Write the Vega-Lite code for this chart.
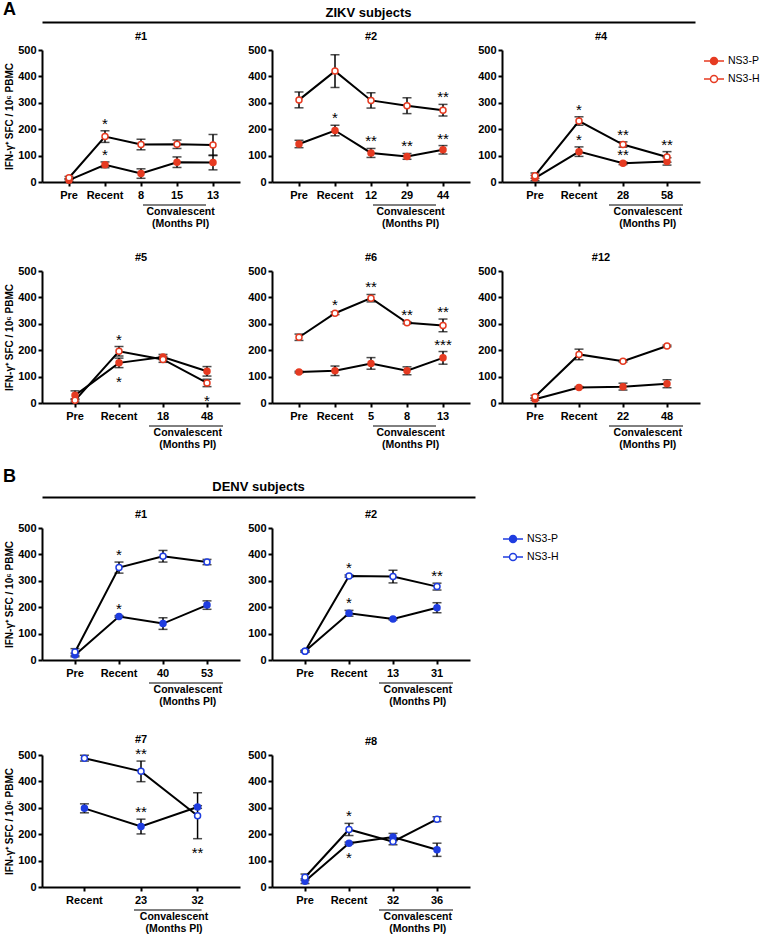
{
"$schema": "https://vega.github.io/schema/vega-lite/v6.json",
"padding": {"left": 3, "top": 1, "right": 0, "bottom": 0},
"background": "white",
"datasets": {
"hdr": [{"letter": "A", "block": "ZIKV subjects"}, {"letter": "B", "block": "DENV subjects"}],
"conv": [
{"p": "Z1", "first": "8", "last": "13", "lab": "Convalescent\n(Months PI)"},
{"p": "Z2", "first": "12", "last": "44", "lab": "Convalescent\n(Months PI)"},
{"p": "Z4", "first": "28", "last": "58", "lab": "Convalescent\n(Months PI)"},
{"p": "Z5", "first": "18", "last": "48", "lab": "Convalescent\n(Months PI)"},
{"p": "Z6", "first": "5", "last": "13", "lab": "Convalescent\n(Months PI)"},
{"p": "Z12", "first": "22", "last": "48", "lab": "Convalescent\n(Months PI)"},
{"p": "D1", "first": "40", "last": "53", "lab": "Convalescent\n(Months PI)"},
{"p": "D2", "first": "13", "last": "31", "lab": "Convalescent\n(Months PI)"},
{"p": "D7", "first": "23", "last": "32", "lab": "Convalescent\n(Months PI)"},
{"p": "D8", "first": "32", "last": "36", "lab": "Convalescent\n(Months PI)"}
],
"pts": [
{"p":"Z1","t":"Pre","s":"NS3-P","m":7,"lo":3,"hi":12},
{"p":"Z1","t":"Recent","s":"NS3-P","m":65,"lo":54,"hi":76,"up":"*"},
{"p":"Z1","t":"8","s":"NS3-P","m":32,"lo":14,"hi":50},
{"p":"Z1","t":"15","s":"NS3-P","m":75,"lo":55,"hi":95},
{"p":"Z1","t":"13","s":"NS3-P","m":74,"lo":46,"hi":102},
{"p":"Z1","t":"Pre","s":"NS3-H","m":16,"lo":11,"hi":21},
{"p":"Z1","t":"Recent","s":"NS3-H","m":172,"lo":150,"hi":194,"up":"*"},
{"p":"Z1","t":"8","s":"NS3-H","m":142,"lo":122,"hi":162},
{"p":"Z1","t":"15","s":"NS3-H","m":143,"lo":127,"hi":159},
{"p":"Z1","t":"13","s":"NS3-H","m":140,"lo":100,"hi":180},
{"p":"Z2","t":"Pre","s":"NS3-P","m":144,"lo":130,"hi":158},
{"p":"Z2","t":"Recent","s":"NS3-P","m":195,"lo":175,"hi":215,"up":"*"},
{"p":"Z2","t":"12","s":"NS3-P","m":110,"lo":93,"hi":127,"up":"**"},
{"p":"Z2","t":"29","s":"NS3-P","m":97,"lo":86,"hi":108,"up":"**"},
{"p":"Z2","t":"44","s":"NS3-P","m":122,"lo":106,"hi":138,"up":"**"},
{"p":"Z2","t":"Pre","s":"NS3-H","m":311,"lo":281,"hi":341},
{"p":"Z2","t":"Recent","s":"NS3-H","m":420,"lo":358,"hi":482},
{"p":"Z2","t":"12","s":"NS3-H","m":309,"lo":280,"hi":338},
{"p":"Z2","t":"29","s":"NS3-H","m":289,"lo":259,"hi":319},
{"p":"Z2","t":"44","s":"NS3-H","m":272,"lo":250,"hi":294,"up":"**"},
{"p":"Z4","t":"Pre","s":"NS3-P","m":15,"lo":5,"hi":25},
{"p":"Z4","t":"Recent","s":"NS3-P","m":115,"lo":97,"hi":133,"up":"*"},
{"p":"Z4","t":"28","s":"NS3-P","m":71,"lo":66,"hi":76,"up":"**"},
{"p":"Z4","t":"58","s":"NS3-P","m":78,"lo":64,"hi":92},
{"p":"Z4","t":"Pre","s":"NS3-H","m":24,"lo":14,"hi":34},
{"p":"Z4","t":"Recent","s":"NS3-H","m":231,"lo":215,"hi":247,"up":"*"},
{"p":"Z4","t":"28","s":"NS3-H","m":142,"lo":132,"hi":152,"up":"**"},
{"p":"Z4","t":"58","s":"NS3-H","m":95,"lo":75,"hi":115,"up":"**"},
{"p":"Z5","t":"Pre","s":"NS3-P","m":29,"lo":12,"hi":46},
{"p":"Z5","t":"Recent","s":"NS3-P","m":152,"lo":134,"hi":170,"dn":"*"},
{"p":"Z5","t":"18","s":"NS3-P","m":174,"lo":164,"hi":184},
{"p":"Z5","t":"48","s":"NS3-P","m":120,"lo":102,"hi":138},
{"p":"Z5","t":"Pre","s":"NS3-H","m":10,"lo":4,"hi":16},
{"p":"Z5","t":"Recent","s":"NS3-H","m":196,"lo":178,"hi":214,"up":"*"},
{"p":"Z5","t":"18","s":"NS3-H","m":165,"lo":154,"hi":176},
{"p":"Z5","t":"48","s":"NS3-H","m":76,"lo":62,"hi":90,"dn":"*"},
{"p":"Z6","t":"Pre","s":"NS3-P","m":117,"lo":114,"hi":120},
{"p":"Z6","t":"Recent","s":"NS3-P","m":122,"lo":104,"hi":140},
{"p":"Z6","t":"5","s":"NS3-P","m":150,"lo":128,"hi":172},
{"p":"Z6","t":"8","s":"NS3-P","m":122,"lo":107,"hi":137},
{"p":"Z6","t":"13","s":"NS3-P","m":171,"lo":147,"hi":195,"up":"***"},
{"p":"Z6","t":"Pre","s":"NS3-H","m":249,"lo":237,"hi":261},
{"p":"Z6","t":"Recent","s":"NS3-H","m":340,"lo":335,"hi":345,"up":"*"},
{"p":"Z6","t":"5","s":"NS3-H","m":397,"lo":383,"hi":411,"up":"**"},
{"p":"Z6","t":"8","s":"NS3-H","m":304,"lo":300,"hi":308,"up":"**"},
{"p":"Z6","t":"13","s":"NS3-H","m":294,"lo":270,"hi":318,"up":"**"},
{"p":"Z12","t":"Pre","s":"NS3-P","m":14,"lo":10,"hi":18},
{"p":"Z12","t":"Recent","s":"NS3-P","m":59,"lo":56,"hi":62},
{"p":"Z12","t":"22","s":"NS3-P","m":62,"lo":49,"hi":75},
{"p":"Z12","t":"48","s":"NS3-P","m":73,"lo":58,"hi":88},
{"p":"Z12","t":"Pre","s":"NS3-H","m":24,"lo":19,"hi":29},
{"p":"Z12","t":"Recent","s":"NS3-H","m":184,"lo":164,"hi":204},
{"p":"Z12","t":"22","s":"NS3-H","m":158,"lo":155,"hi":161},
{"p":"Z12","t":"48","s":"NS3-H","m":216,"lo":213,"hi":219},
{"p":"D1","t":"Pre","s":"NS3-P","m":19,"lo":12,"hi":26},
{"p":"D1","t":"Recent","s":"NS3-P","m":165,"lo":162,"hi":168,"up":"*"},
{"p":"D1","t":"40","s":"NS3-P","m":138,"lo":116,"hi":160},
{"p":"D1","t":"53","s":"NS3-P","m":208,"lo":192,"hi":224},
{"p":"D1","t":"Pre","s":"NS3-H","m":30,"lo":17,"hi":43},
{"p":"D1","t":"Recent","s":"NS3-H","m":350,"lo":329,"hi":371,"up":"*"},
{"p":"D1","t":"40","s":"NS3-H","m":393,"lo":371,"hi":415},
{"p":"D1","t":"53","s":"NS3-H","m":371,"lo":361,"hi":381},
{"p":"D2","t":"Pre","s":"NS3-P","m":33,"lo":30,"hi":36},
{"p":"D2","t":"Recent","s":"NS3-P","m":177,"lo":166,"hi":188,"up":"*"},
{"p":"D2","t":"13","s":"NS3-P","m":155,"lo":152,"hi":158},
{"p":"D2","t":"31","s":"NS3-P","m":198,"lo":179,"hi":217},
{"p":"D2","t":"Pre","s":"NS3-H","m":33,"lo":30,"hi":36},
{"p":"D2","t":"Recent","s":"NS3-H","m":318,"lo":314,"hi":322,"up":"*"},
{"p":"D2","t":"13","s":"NS3-H","m":316,"lo":292,"hi":340},
{"p":"D2","t":"31","s":"NS3-H","m":278,"lo":265,"hi":291,"up":"**"},
{"p":"D7","t":"Recent","s":"NS3-P","m":298,"lo":281,"hi":315},
{"p":"D7","t":"23","s":"NS3-P","m":229,"lo":201,"hi":257,"up":"**"},
{"p":"D7","t":"32","s":"NS3-P","m":303,"lo":298,"hi":308},
{"p":"D7","t":"Recent","s":"NS3-H","m":488,"lo":477,"hi":499},
{"p":"D7","t":"23","s":"NS3-H","m":438,"lo":399,"hi":477,"up":"**"},
{"p":"D7","t":"32","s":"NS3-H","m":270,"lo":183,"hi":357,"dn":"**"},
{"p":"D8","t":"Pre","s":"NS3-P","m":22,"lo":13,"hi":31},
{"p":"D8","t":"Recent","s":"NS3-P","m":166,"lo":162,"hi":170,"dn":"*"},
{"p":"D8","t":"32","s":"NS3-P","m":189,"lo":175,"hi":203},
{"p":"D8","t":"36","s":"NS3-P","m":141,"lo":116,"hi":166},
{"p":"D8","t":"Pre","s":"NS3-H","m":37,"lo":25,"hi":49},
{"p":"D8","t":"Recent","s":"NS3-H","m":218,"lo":195,"hi":241,"up":"*"},
{"p":"D8","t":"32","s":"NS3-H","m":172,"lo":160,"hi":184},
{"p":"D8","t":"36","s":"NS3-H","m":257,"lo":248,"hi":266}
]
},
"config": {
"font": "Liberation Sans",
"view": {"stroke": null},
"axis": {"domainColor": "black", "domainWidth": 2, "tickColor": "black", "tickWidth": 2, "tickSize": 4, "labelFont": "Liberation Sans", "labelFontWeight": "bold", "labelFontSize": 11, "labelColor": "black", "grid": false, "titleFont": "Liberation Sans", "titleFontWeight": "bold", "titleFontSize": 10, "titleColor": "black", "labelPadding": 2},
"axisX": {"labelAngle": 0, "labelPadding": 3},
"axisY": {"tickCount": 5, "titlePadding": 3},
"title": {"font": "Liberation Sans", "fontSize": 11, "fontWeight": "bold", "color": "black", "offset": 2, "baseline": "alphabetic"},
"text": {"font": "Liberation Sans", "color": "black"}
},
"spacing": 17,
"resolve": {"scale": {"fill": "independent"}, "legend": {"fill": "independent"}},
"vconcat": [
{"spacing": 9,
"resolve": {"scale": {"fill": "independent"}, "legend": {"fill": "independent"}},
"vconcat": [
{"width": 653, "height": 6,
"data": {"name": "hdr"}, "transform": [{"filter": "datum.letter == 'A'"}],
"encoding": {"x": {"datum": 0, "type": "quantitative", "scale": {"domain": [0, 1]}, "axis": {"domain": true, "ticks": false, "labels": false, "title": null, "grid": false}}},
"layer": [
{"mark": {"type": "text", "align": "left", "baseline": "middle", "fontSize": 18, "fontWeight": "bold", "dx": -39, "dy": -9}, "encoding": {"text": {"field": "letter"}}},
{"mark": {"type": "text", "align": "center", "baseline": "alphabetic", "fontSize": 13, "fontWeight": "bold", "dy": -2}, "encoding": {"x": {"datum": 0.5, "type": "quantitative"}, "text": {"field": "block"}}}
]},
{"spacing": 22,
"resolve": {"scale": {"fill": "independent"}, "legend": {"fill": "independent"}},
"vconcat": [
{"spacing": 7,
"resolve": {"scale": {"fill": "independent"}, "legend": {"fill": "independent"}},
"hconcat": [
{"width": 198, "height": 132, "title": "#1", "data": {"name": "pts"}, "transform": [{"filter": "datum.p == 'Z1'"}],
"encoding": {"x": {"field": "t", "type": "nominal", "scale": {"domain": ["Pre", "Recent", "8", "15", "13"], "padding": 0.5}, "axis": {"title": null}}},
"layer": [
{"mark": {"type": "line", "color": "black", "strokeWidth": 2}, "encoding": {"y": {"field": "m", "type": "quantitative", "title": "IFN-γ⁺ SFC / 10⁶ PBMC", "scale": {"domain": [0, 500], "nice": false}}, "detail": {"field": "s"}, "order": {"value": null}}},
{"mark": {"type": "errorbar", "color": "black", "thickness": 1.5, "ticks": {"size": 9}}, "encoding": {"y": {"field": "lo", "type": "quantitative", "title": "IFN-γ⁺ SFC / 10⁶ PBMC"}, "y2": {"field": "hi"}}},
{"mark": {"type": "circle", "size": 36, "stroke": "#e63b22", "strokeWidth": 1.5, "opacity": 1}, "encoding": {"y": {"field": "m", "type": "quantitative", "title": "IFN-γ⁺ SFC / 10⁶ PBMC"}, "fill": {"field": "s", "type": "nominal", "scale": {"domain": ["NS3-P", "NS3-H"], "range": ["#e63b22", "white"]}, "legend": null}}},
{"transform": [{"filter": "datum.up"}], "mark": {"type": "text", "fontSize": 15, "baseline": "alphabetic", "dy": -2}, "encoding": {"y": {"field": "hi", "type": "quantitative", "title": "IFN-γ⁺ SFC / 10⁶ PBMC"}, "text": {"field": "up"}}},
{"transform": [{"filter": "datum.dn"}], "mark": {"type": "text", "fontSize": 15, "baseline": "alphabetic", "dy": 19}, "encoding": {"y": {"field": "lo", "type": "quantitative", "title": "IFN-γ⁺ SFC / 10⁶ PBMC"}, "text": {"field": "dn"}}},
{"data": {"name": "conv"}, "transform": [{"filter": "datum.p == 'Z1'"}], "layer": [
{"mark": {"type": "rule", "color": "black", "strokeWidth": 1, "xOffset": 2, "x2Offset": -7, "yOffset": 23, "y2Offset": 23}, "encoding": {"x": {"field": "first", "type": "nominal"}, "x2": {"field": "last"}, "y": {"datum": 0, "type": "quantitative", "title": "IFN-γ⁺ SFC / 10⁶ PBMC"}, "y2": {"datum": 0}}},
{"mark": {"type": "text", "fontSize": 10.5, "fontWeight": "bold", "baseline": "top", "lineBreak": "\n", "lineHeight": 12, "dx": 39.6, "dy": 25}, "encoding": {"x": {"field": "first", "type": "nominal"}, "y": {"datum": 0, "type": "quantitative", "title": "IFN-γ⁺ SFC / 10⁶ PBMC"}, "text": {"field": "lab"}}}
]}
]},
{"width": 198, "height": 132, "title": "#2", "data": {"name": "pts"}, "transform": [{"filter": "datum.p == 'Z2'"}],
"encoding": {"x": {"field": "t", "type": "nominal", "scale": {"domain": ["Pre", "Recent", "12", "29", "44"], "padding": 0.5}, "axis": {"title": null}}},
"layer": [
{"mark": {"type": "line", "color": "black", "strokeWidth": 2}, "encoding": {"y": {"field": "m", "type": "quantitative", "scale": {"domain": [0, 500], "nice": false}, "axis": {"title": null}}, "detail": {"field": "s"}, "order": {"value": null}}},
{"mark": {"type": "errorbar", "color": "black", "thickness": 1.5, "ticks": {"size": 9}}, "encoding": {"y": {"field": "lo", "type": "quantitative"}, "y2": {"field": "hi"}}},
{"mark": {"type": "circle", "size": 36, "stroke": "#e63b22", "strokeWidth": 1.5, "opacity": 1}, "encoding": {"y": {"field": "m", "type": "quantitative"}, "fill": {"field": "s", "type": "nominal", "scale": {"domain": ["NS3-P", "NS3-H"], "range": ["#e63b22", "white"]}, "legend": null}}},
{"transform": [{"filter": "datum.up"}], "mark": {"type": "text", "fontSize": 15, "baseline": "alphabetic", "dy": -2}, "encoding": {"y": {"field": "hi", "type": "quantitative"}, "text": {"field": "up"}}},
{"transform": [{"filter": "datum.dn"}], "mark": {"type": "text", "fontSize": 15, "baseline": "alphabetic", "dy": 19}, "encoding": {"y": {"field": "lo", "type": "quantitative"}, "text": {"field": "dn"}}},
{"data": {"name": "conv"}, "transform": [{"filter": "datum.p == 'Z2'"}], "layer": [
{"mark": {"type": "rule", "color": "black", "strokeWidth": 1, "xOffset": 2, "x2Offset": -7, "yOffset": 23, "y2Offset": 23}, "encoding": {"x": {"field": "first", "type": "nominal"}, "x2": {"field": "last"}, "y": {"datum": 0, "type": "quantitative"}, "y2": {"datum": 0}}},
{"mark": {"type": "text", "fontSize": 10.5, "fontWeight": "bold", "baseline": "top", "lineBreak": "\n", "lineHeight": 12, "dx": 39.6, "dy": 25}, "encoding": {"x": {"field": "first", "type": "nominal"}, "y": {"datum": 0, "type": "quantitative"}, "text": {"field": "lab"}}}
]}
]},
{"width": 198, "height": 132, "title": "#4", "data": {"name": "pts"}, "transform": [{"filter": "datum.p == 'Z4'"}],
"encoding": {"x": {"field": "t", "type": "nominal", "scale": {"domain": ["Pre", "Recent", "28", "58"], "padding": 0.5}, "axis": {"title": null}}},
"layer": [
{"mark": {"type": "line", "color": "black", "strokeWidth": 2}, "encoding": {"y": {"field": "m", "type": "quantitative", "scale": {"domain": [0, 500], "nice": false}, "axis": {"title": null}}, "detail": {"field": "s"}, "order": {"value": null}}},
{"mark": {"type": "errorbar", "color": "black", "thickness": 1.5, "ticks": {"size": 9}}, "encoding": {"y": {"field": "lo", "type": "quantitative"}, "y2": {"field": "hi"}}},
{"mark": {"type": "circle", "size": 36, "stroke": "#e63b22", "strokeWidth": 1.5, "opacity": 1}, "encoding": {"y": {"field": "m", "type": "quantitative"}, "fill": {"field": "s", "type": "nominal", "scale": {"domain": ["NS3-P", "NS3-H"], "range": ["#e63b22", "white"]}, "legend": {"title": null, "orient": "right", "offset": 3, "padding": 0, "rowPadding": 0, "symbolType": "M -1 0 L -0.4 0 M 0.4 0 L 1 0 M 0.35 0 A 0.35 0.35 0 1 1 -0.35 0 A 0.35 0.35 0 1 1 0.35 0", "symbolSize": 400, "symbolStrokeColor": "#e63b22", "symbolStrokeWidth": 1.5, "labelFont": "Liberation Sans", "labelFontSize": 10.5, "labelColor": "black", "labelOffset": 3}}}},
{"transform": [{"filter": "datum.up"}], "mark": {"type": "text", "fontSize": 15, "baseline": "alphabetic", "dy": -2}, "encoding": {"y": {"field": "hi", "type": "quantitative"}, "text": {"field": "up"}}},
{"transform": [{"filter": "datum.dn"}], "mark": {"type": "text", "fontSize": 15, "baseline": "alphabetic", "dy": 19}, "encoding": {"y": {"field": "lo", "type": "quantitative"}, "text": {"field": "dn"}}},
{"data": {"name": "conv"}, "transform": [{"filter": "datum.p == 'Z4'"}], "layer": [
{"mark": {"type": "rule", "color": "black", "strokeWidth": 1, "xOffset": -14, "x2Offset": 16, "yOffset": 23, "y2Offset": 23}, "encoding": {"x": {"field": "first", "type": "nominal"}, "x2": {"field": "last"}, "y": {"datum": 0, "type": "quantitative"}, "y2": {"datum": 0}}},
{"mark": {"type": "text", "fontSize": 10.5, "fontWeight": "bold", "baseline": "top", "lineBreak": "\n", "lineHeight": 12, "dx": 24.75, "dy": 25}, "encoding": {"x": {"field": "first", "type": "nominal"}, "y": {"datum": 0, "type": "quantitative"}, "text": {"field": "lab"}}}
]}
]}
]},
{"spacing": 7,
"resolve": {"scale": {"fill": "independent"}, "legend": {"fill": "independent"}},
"hconcat": [
{"width": 198, "height": 132, "title": "#5", "data": {"name": "pts"}, "transform": [{"filter": "datum.p == 'Z5'"}],
"encoding": {"x": {"field": "t", "type": "nominal", "scale": {"domain": ["Pre", "Recent", "18", "48"], "padding": 0.5}, "axis": {"title": null}}},
"layer": [
{"mark": {"type": "line", "color": "black", "strokeWidth": 2}, "encoding": {"y": {"field": "m", "type": "quantitative", "title": "IFN-γ⁺ SFC / 10⁶ PBMC", "scale": {"domain": [0, 500], "nice": false}}, "detail": {"field": "s"}, "order": {"value": null}}},
{"mark": {"type": "errorbar", "color": "black", "thickness": 1.5, "ticks": {"size": 9}}, "encoding": {"y": {"field": "lo", "type": "quantitative", "title": "IFN-γ⁺ SFC / 10⁶ PBMC"}, "y2": {"field": "hi"}}},
{"mark": {"type": "circle", "size": 36, "stroke": "#e63b22", "strokeWidth": 1.5, "opacity": 1}, "encoding": {"y": {"field": "m", "type": "quantitative", "title": "IFN-γ⁺ SFC / 10⁶ PBMC"}, "fill": {"field": "s", "type": "nominal", "scale": {"domain": ["NS3-P", "NS3-H"], "range": ["#e63b22", "white"]}, "legend": null}}},
{"transform": [{"filter": "datum.up"}], "mark": {"type": "text", "fontSize": 15, "baseline": "alphabetic", "dy": -2}, "encoding": {"y": {"field": "hi", "type": "quantitative", "title": "IFN-γ⁺ SFC / 10⁶ PBMC"}, "text": {"field": "up"}}},
{"transform": [{"filter": "datum.dn"}], "mark": {"type": "text", "fontSize": 15, "baseline": "alphabetic", "dy": 19}, "encoding": {"y": {"field": "lo", "type": "quantitative", "title": "IFN-γ⁺ SFC / 10⁶ PBMC"}, "text": {"field": "dn"}}},
{"data": {"name": "conv"}, "transform": [{"filter": "datum.p == 'Z5'"}], "layer": [
{"mark": {"type": "rule", "color": "black", "strokeWidth": 1, "xOffset": -14, "x2Offset": 16, "yOffset": 23, "y2Offset": 23}, "encoding": {"x": {"field": "first", "type": "nominal"}, "x2": {"field": "last"}, "y": {"datum": 0, "type": "quantitative", "title": "IFN-γ⁺ SFC / 10⁶ PBMC"}, "y2": {"datum": 0}}},
{"mark": {"type": "text", "fontSize": 10.5, "fontWeight": "bold", "baseline": "top", "lineBreak": "\n", "lineHeight": 12, "dx": 24.75, "dy": 25}, "encoding": {"x": {"field": "first", "type": "nominal"}, "y": {"datum": 0, "type": "quantitative", "title": "IFN-γ⁺ SFC / 10⁶ PBMC"}, "text": {"field": "lab"}}}
]}
]},
{"width": 198, "height": 132, "title": "#6", "data": {"name": "pts"}, "transform": [{"filter": "datum.p == 'Z6'"}],
"encoding": {"x": {"field": "t", "type": "nominal", "scale": {"domain": ["Pre", "Recent", "5", "8", "13"], "padding": 0.5}, "axis": {"title": null}}},
"layer": [
{"mark": {"type": "line", "color": "black", "strokeWidth": 2}, "encoding": {"y": {"field": "m", "type": "quantitative", "scale": {"domain": [0, 500], "nice": false}, "axis": {"title": null}}, "detail": {"field": "s"}, "order": {"value": null}}},
{"mark": {"type": "errorbar", "color": "black", "thickness": 1.5, "ticks": {"size": 9}}, "encoding": {"y": {"field": "lo", "type": "quantitative"}, "y2": {"field": "hi"}}},
{"mark": {"type": "circle", "size": 36, "stroke": "#e63b22", "strokeWidth": 1.5, "opacity": 1}, "encoding": {"y": {"field": "m", "type": "quantitative"}, "fill": {"field": "s", "type": "nominal", "scale": {"domain": ["NS3-P", "NS3-H"], "range": ["#e63b22", "white"]}, "legend": null}}},
{"transform": [{"filter": "datum.up"}], "mark": {"type": "text", "fontSize": 15, "baseline": "alphabetic", "dy": -2}, "encoding": {"y": {"field": "hi", "type": "quantitative"}, "text": {"field": "up"}}},
{"transform": [{"filter": "datum.dn"}], "mark": {"type": "text", "fontSize": 15, "baseline": "alphabetic", "dy": 19}, "encoding": {"y": {"field": "lo", "type": "quantitative"}, "text": {"field": "dn"}}},
{"data": {"name": "conv"}, "transform": [{"filter": "datum.p == 'Z6'"}], "layer": [
{"mark": {"type": "rule", "color": "black", "strokeWidth": 1, "xOffset": 2, "x2Offset": -7, "yOffset": 23, "y2Offset": 23}, "encoding": {"x": {"field": "first", "type": "nominal"}, "x2": {"field": "last"}, "y": {"datum": 0, "type": "quantitative"}, "y2": {"datum": 0}}},
{"mark": {"type": "text", "fontSize": 10.5, "fontWeight": "bold", "baseline": "top", "lineBreak": "\n", "lineHeight": 12, "dx": 39.6, "dy": 25}, "encoding": {"x": {"field": "first", "type": "nominal"}, "y": {"datum": 0, "type": "quantitative"}, "text": {"field": "lab"}}}
]}
]},
{"width": 198, "height": 132, "title": "#12", "data": {"name": "pts"}, "transform": [{"filter": "datum.p == 'Z12'"}],
"encoding": {"x": {"field": "t", "type": "nominal", "scale": {"domain": ["Pre", "Recent", "22", "48"], "padding": 0.5}, "axis": {"title": null}}},
"layer": [
{"mark": {"type": "line", "color": "black", "strokeWidth": 2}, "encoding": {"y": {"field": "m", "type": "quantitative", "scale": {"domain": [0, 500], "nice": false}, "axis": {"title": null}}, "detail": {"field": "s"}, "order": {"value": null}}},
{"mark": {"type": "errorbar", "color": "black", "thickness": 1.5, "ticks": {"size": 9}}, "encoding": {"y": {"field": "lo", "type": "quantitative"}, "y2": {"field": "hi"}}},
{"mark": {"type": "circle", "size": 36, "stroke": "#e63b22", "strokeWidth": 1.5, "opacity": 1}, "encoding": {"y": {"field": "m", "type": "quantitative"}, "fill": {"field": "s", "type": "nominal", "scale": {"domain": ["NS3-P", "NS3-H"], "range": ["#e63b22", "white"]}, "legend": null}}},
{"transform": [{"filter": "datum.up"}], "mark": {"type": "text", "fontSize": 15, "baseline": "alphabetic", "dy": -2}, "encoding": {"y": {"field": "hi", "type": "quantitative"}, "text": {"field": "up"}}},
{"transform": [{"filter": "datum.dn"}], "mark": {"type": "text", "fontSize": 15, "baseline": "alphabetic", "dy": 19}, "encoding": {"y": {"field": "lo", "type": "quantitative"}, "text": {"field": "dn"}}},
{"data": {"name": "conv"}, "transform": [{"filter": "datum.p == 'Z12'"}], "layer": [
{"mark": {"type": "rule", "color": "black", "strokeWidth": 1, "xOffset": -14, "x2Offset": 16, "yOffset": 23, "y2Offset": 23}, "encoding": {"x": {"field": "first", "type": "nominal"}, "x2": {"field": "last"}, "y": {"datum": 0, "type": "quantitative"}, "y2": {"datum": 0}}},
{"mark": {"type": "text", "fontSize": 10.5, "fontWeight": "bold", "baseline": "top", "lineBreak": "\n", "lineHeight": 12, "dx": 24.75, "dy": 25}, "encoding": {"x": {"field": "first", "type": "nominal"}, "y": {"datum": 0, "type": "quantitative"}, "text": {"field": "lab"}}}
]}
]}
]}
]}
]},
{"spacing": 12,
"resolve": {"scale": {"fill": "independent"}, "legend": {"fill": "independent"}},
"vconcat": [
{"width": 433, "height": 6,
"data": {"name": "hdr"}, "transform": [{"filter": "datum.letter == 'B'"}],
"encoding": {"x": {"datum": 0, "type": "quantitative", "scale": {"domain": [0, 1]}, "axis": {"domain": true, "ticks": false, "labels": false, "title": null, "grid": false}}},
"layer": [
{"mark": {"type": "text", "align": "left", "baseline": "middle", "fontSize": 18, "fontWeight": "bold", "dx": -39, "dy": -17}, "encoding": {"text": {"field": "letter"}}},
{"mark": {"type": "text", "align": "center", "baseline": "alphabetic", "fontSize": 13, "fontWeight": "bold", "dy": -3}, "encoding": {"x": {"datum": 0.5, "type": "quantitative"}, "text": {"field": "block"}}}
]},
{"spacing": 26,
"resolve": {"scale": {"fill": "independent"}, "legend": {"fill": "independent"}},
"vconcat": [
{"spacing": 7,
"resolve": {"scale": {"fill": "independent"}, "legend": {"fill": "independent"}},
"hconcat": [
{"width": 198, "height": 132, "title": "#1", "data": {"name": "pts"}, "transform": [{"filter": "datum.p == 'D1'"}],
"encoding": {"x": {"field": "t", "type": "nominal", "scale": {"domain": ["Pre", "Recent", "40", "53"], "padding": 0.5}, "axis": {"title": null}}},
"layer": [
{"mark": {"type": "line", "color": "black", "strokeWidth": 2}, "encoding": {"y": {"field": "m", "type": "quantitative", "title": "IFN-γ⁺ SFC / 10⁶ PBMC", "scale": {"domain": [0, 500], "nice": false}}, "detail": {"field": "s"}, "order": {"value": null}}},
{"mark": {"type": "errorbar", "color": "black", "thickness": 1.5, "ticks": {"size": 9}}, "encoding": {"y": {"field": "lo", "type": "quantitative", "title": "IFN-γ⁺ SFC / 10⁶ PBMC"}, "y2": {"field": "hi"}}},
{"mark": {"type": "circle", "size": 36, "stroke": "#1f3de0", "strokeWidth": 1.5, "opacity": 1}, "encoding": {"y": {"field": "m", "type": "quantitative", "title": "IFN-γ⁺ SFC / 10⁶ PBMC"}, "fill": {"field": "s", "type": "nominal", "scale": {"domain": ["NS3-P", "NS3-H"], "range": ["#1f3de0", "white"]}, "legend": null}}},
{"transform": [{"filter": "datum.up"}], "mark": {"type": "text", "fontSize": 15, "baseline": "alphabetic", "dy": -2}, "encoding": {"y": {"field": "hi", "type": "quantitative", "title": "IFN-γ⁺ SFC / 10⁶ PBMC"}, "text": {"field": "up"}}},
{"transform": [{"filter": "datum.dn"}], "mark": {"type": "text", "fontSize": 15, "baseline": "alphabetic", "dy": 19}, "encoding": {"y": {"field": "lo", "type": "quantitative", "title": "IFN-γ⁺ SFC / 10⁶ PBMC"}, "text": {"field": "dn"}}},
{"data": {"name": "conv"}, "transform": [{"filter": "datum.p == 'D1'"}], "layer": [
{"mark": {"type": "rule", "color": "black", "strokeWidth": 1, "xOffset": -14, "x2Offset": 16, "yOffset": 23, "y2Offset": 23}, "encoding": {"x": {"field": "first", "type": "nominal"}, "x2": {"field": "last"}, "y": {"datum": 0, "type": "quantitative", "title": "IFN-γ⁺ SFC / 10⁶ PBMC"}, "y2": {"datum": 0}}},
{"mark": {"type": "text", "fontSize": 10.5, "fontWeight": "bold", "baseline": "top", "lineBreak": "\n", "lineHeight": 12, "dx": 24.75, "dy": 25}, "encoding": {"x": {"field": "first", "type": "nominal"}, "y": {"datum": 0, "type": "quantitative", "title": "IFN-γ⁺ SFC / 10⁶ PBMC"}, "text": {"field": "lab"}}}
]}
]},
{"width": 198, "height": 132, "title": "#2", "data": {"name": "pts"}, "transform": [{"filter": "datum.p == 'D2'"}],
"encoding": {"x": {"field": "t", "type": "nominal", "scale": {"domain": ["Pre", "Recent", "13", "31"], "padding": 0.5}, "axis": {"title": null}}},
"layer": [
{"mark": {"type": "line", "color": "black", "strokeWidth": 2}, "encoding": {"y": {"field": "m", "type": "quantitative", "scale": {"domain": [0, 500], "nice": false}, "axis": {"title": null}}, "detail": {"field": "s"}, "order": {"value": null}}},
{"mark": {"type": "errorbar", "color": "black", "thickness": 1.5, "ticks": {"size": 9}}, "encoding": {"y": {"field": "lo", "type": "quantitative"}, "y2": {"field": "hi"}}},
{"mark": {"type": "circle", "size": 36, "stroke": "#1f3de0", "strokeWidth": 1.5, "opacity": 1}, "encoding": {"y": {"field": "m", "type": "quantitative"}, "fill": {"field": "s", "type": "nominal", "scale": {"domain": ["NS3-P", "NS3-H"], "range": ["#1f3de0", "white"]}, "legend": {"title": null, "orient": "right", "offset": 32, "padding": 0, "rowPadding": 0, "symbolType": "M -1 0 L -0.4 0 M 0.4 0 L 1 0 M 0.35 0 A 0.35 0.35 0 1 1 -0.35 0 A 0.35 0.35 0 1 1 0.35 0", "symbolSize": 400, "symbolStrokeColor": "#1f3de0", "symbolStrokeWidth": 1.5, "labelFont": "Liberation Sans", "labelFontSize": 10.5, "labelColor": "black", "labelOffset": 3}}}},
{"transform": [{"filter": "datum.up"}], "mark": {"type": "text", "fontSize": 15, "baseline": "alphabetic", "dy": -2}, "encoding": {"y": {"field": "hi", "type": "quantitative"}, "text": {"field": "up"}}},
{"transform": [{"filter": "datum.dn"}], "mark": {"type": "text", "fontSize": 15, "baseline": "alphabetic", "dy": 19}, "encoding": {"y": {"field": "lo", "type": "quantitative"}, "text": {"field": "dn"}}},
{"data": {"name": "conv"}, "transform": [{"filter": "datum.p == 'D2'"}], "layer": [
{"mark": {"type": "rule", "color": "black", "strokeWidth": 1, "xOffset": -14, "x2Offset": 16, "yOffset": 23, "y2Offset": 23}, "encoding": {"x": {"field": "first", "type": "nominal"}, "x2": {"field": "last"}, "y": {"datum": 0, "type": "quantitative"}, "y2": {"datum": 0}}},
{"mark": {"type": "text", "fontSize": 10.5, "fontWeight": "bold", "baseline": "top", "lineBreak": "\n", "lineHeight": 12, "dx": 24.75, "dy": 25}, "encoding": {"x": {"field": "first", "type": "nominal"}, "y": {"datum": 0, "type": "quantitative"}, "text": {"field": "lab"}}}
]}
]}
]},
{"spacing": 7,
"resolve": {"scale": {"fill": "independent"}, "legend": {"fill": "independent"}},
"hconcat": [
{"width": 198, "height": 132, "title": "#7", "data": {"name": "pts"}, "transform": [{"filter": "datum.p == 'D7'"}],
"encoding": {"x": {"field": "t", "type": "nominal", "scale": {"domain": ["Recent", "23", "32"], "padding": 0.5}, "axis": {"title": null}}},
"layer": [
{"mark": {"type": "line", "color": "black", "strokeWidth": 2}, "encoding": {"y": {"field": "m", "type": "quantitative", "title": "IFN-γ⁺ SFC / 10⁶ PBMC", "scale": {"domain": [0, 500], "nice": false}}, "detail": {"field": "s"}, "order": {"value": null}}},
{"mark": {"type": "errorbar", "color": "black", "thickness": 1.5, "ticks": {"size": 9}}, "encoding": {"y": {"field": "lo", "type": "quantitative", "title": "IFN-γ⁺ SFC / 10⁶ PBMC"}, "y2": {"field": "hi"}}},
{"mark": {"type": "circle", "size": 36, "stroke": "#1f3de0", "strokeWidth": 1.5, "opacity": 1}, "encoding": {"y": {"field": "m", "type": "quantitative", "title": "IFN-γ⁺ SFC / 10⁶ PBMC"}, "fill": {"field": "s", "type": "nominal", "scale": {"domain": ["NS3-P", "NS3-H"], "range": ["#1f3de0", "white"]}, "legend": null}}},
{"transform": [{"filter": "datum.up"}], "mark": {"type": "text", "fontSize": 15, "baseline": "alphabetic", "dy": -2}, "encoding": {"y": {"field": "hi", "type": "quantitative", "title": "IFN-γ⁺ SFC / 10⁶ PBMC"}, "text": {"field": "up"}}},
{"transform": [{"filter": "datum.dn"}], "mark": {"type": "text", "fontSize": 15, "baseline": "alphabetic", "dy": 19}, "encoding": {"y": {"field": "lo", "type": "quantitative", "title": "IFN-γ⁺ SFC / 10⁶ PBMC"}, "text": {"field": "dn"}}},
{"data": {"name": "conv"}, "transform": [{"filter": "datum.p == 'D7'"}], "layer": [
{"mark": {"type": "rule", "color": "black", "strokeWidth": 1, "xOffset": -7, "x2Offset": 4, "yOffset": 23, "y2Offset": 23}, "encoding": {"x": {"field": "first", "type": "nominal"}, "x2": {"field": "last"}, "y": {"datum": 0, "type": "quantitative", "title": "IFN-γ⁺ SFC / 10⁶ PBMC"}, "y2": {"datum": 0}}},
{"mark": {"type": "text", "fontSize": 10.5, "fontWeight": "bold", "baseline": "top", "lineBreak": "\n", "lineHeight": 12, "dx": 33, "dy": 25}, "encoding": {"x": {"field": "first", "type": "nominal"}, "y": {"datum": 0, "type": "quantitative", "title": "IFN-γ⁺ SFC / 10⁶ PBMC"}, "text": {"field": "lab"}}}
]}
]},
{"width": 198, "height": 132, "title": "#8", "data": {"name": "pts"}, "transform": [{"filter": "datum.p == 'D8'"}],
"encoding": {"x": {"field": "t", "type": "nominal", "scale": {"domain": ["Pre", "Recent", "32", "36"], "padding": 0.5}, "axis": {"title": null}}},
"layer": [
{"mark": {"type": "line", "color": "black", "strokeWidth": 2}, "encoding": {"y": {"field": "m", "type": "quantitative", "scale": {"domain": [0, 500], "nice": false}, "axis": {"title": null}}, "detail": {"field": "s"}, "order": {"value": null}}},
{"mark": {"type": "errorbar", "color": "black", "thickness": 1.5, "ticks": {"size": 9}}, "encoding": {"y": {"field": "lo", "type": "quantitative"}, "y2": {"field": "hi"}}},
{"mark": {"type": "circle", "size": 36, "stroke": "#1f3de0", "strokeWidth": 1.5, "opacity": 1}, "encoding": {"y": {"field": "m", "type": "quantitative"}, "fill": {"field": "s", "type": "nominal", "scale": {"domain": ["NS3-P", "NS3-H"], "range": ["#1f3de0", "white"]}, "legend": null}}},
{"transform": [{"filter": "datum.up"}], "mark": {"type": "text", "fontSize": 15, "baseline": "alphabetic", "dy": -2}, "encoding": {"y": {"field": "hi", "type": "quantitative"}, "text": {"field": "up"}}},
{"transform": [{"filter": "datum.dn"}], "mark": {"type": "text", "fontSize": 15, "baseline": "alphabetic", "dy": 19}, "encoding": {"y": {"field": "lo", "type": "quantitative"}, "text": {"field": "dn"}}},
{"data": {"name": "conv"}, "transform": [{"filter": "datum.p == 'D8'"}], "layer": [
{"mark": {"type": "rule", "color": "black", "strokeWidth": 1, "xOffset": -14, "x2Offset": 16, "yOffset": 23, "y2Offset": 23}, "encoding": {"x": {"field": "first", "type": "nominal"}, "x2": {"field": "last"}, "y": {"datum": 0, "type": "quantitative"}, "y2": {"datum": 0}}},
{"mark": {"type": "text", "fontSize": 10.5, "fontWeight": "bold", "baseline": "top", "lineBreak": "\n", "lineHeight": 12, "dx": 24.75, "dy": 25}, "encoding": {"x": {"field": "first", "type": "nominal"}, "y": {"datum": 0, "type": "quantitative"}, "text": {"field": "lab"}}}
]}
]}
]}
]}
]}
]
}
